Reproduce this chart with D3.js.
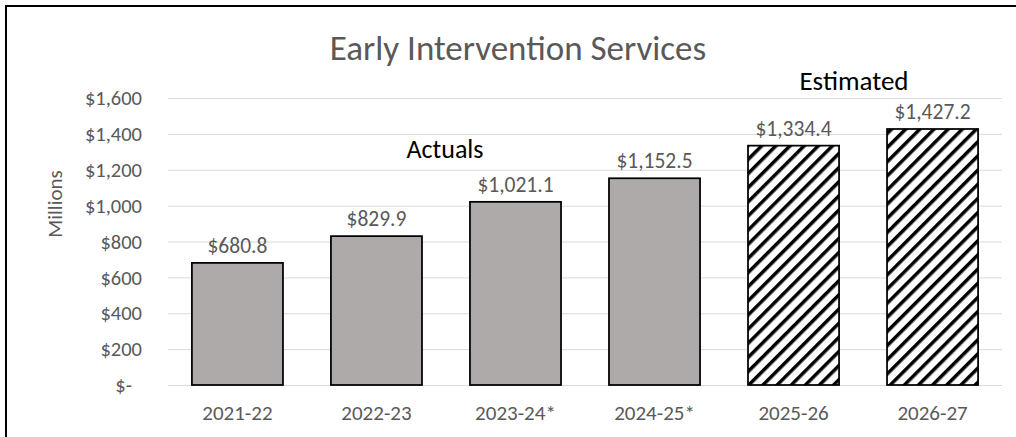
<!DOCTYPE html>
<html lang="en">
    <head>
        <meta charset="utf-8">
        <title>Early Intervention Services</title>
        <script type="text/javascript" src="https://d3js.org/d3.v7.min.js"></script>
        <style type="text/css">
            body{ margin: 0; background: #fff; }
            text{ font-family: Calibri, Carlito, "Open Sans", sans-serif; }
            .grid line{ stroke: #d9d9d9; stroke-width: 1px; }
            .grid path{ display: none; }
        </style>
    </head>
    <body>
        <svg id="chart" width="1016" height="437"></svg>
        <script type="text/javascript">
        //data
        const years = ["2021-22", "2022-23", "2023-24*", "2024-25*", "2025-26", "2026-27"];
        const amounts = [680.8, 829.9, 1021.1, 1152.5, 1334.4, 1427.2];
        const estimated = [false, false, false, false, true, true];
        const yTicks = [0, 200, 400, 600, 800, 1000, 1200, 1400, 1600];

        const svg = d3.select("#chart");
        const plotL = 168, plotR = 1002, plotT = 98, plotB = 385;
        const txt = "#595959";

        //hatch pattern for estimates
        const pat = svg.append("defs").append("pattern")
            .attr("id", "hatch")
            .attr("patternUnits", "userSpaceOnUse")
            .attr("width", 10).attr("height", 10)
            .attr("patternTransform", "rotate(45)");
        pat.append("rect").attr("width", 10).attr("height", 10).attr("fill", "#fff");
        pat.append("rect").attr("width", 3.5).attr("height", 10).attr("fill", "#000");

        //outer frame
        svg.append("rect")
            .attr("x", 6).attr("y", 6)
            .attr("width", 1030).attr("height", 450)
            .attr("fill", "none").attr("stroke", "#000").attr("stroke-width", 2);

        const x = d3.scaleBand().domain(years).range([plotL, plotR]).paddingInner(0.345).paddingOuter(0.172);
        const y = d3.scaleLinear().domain([0, 1600]).range([plotB, plotT]);

        //gridlines
        svg.append("g").attr("class", "grid")
            .attr("transform", `translate(${plotL},0)`)
            .call(d3.axisLeft(y).tickValues(yTicks).tickSize(-(plotR - plotL)).tickFormat(""));

        //y tick labels
        svg.append("g").selectAll("text")
            .data(yTicks)
            .join("text")
            .attr("x", d => d === 0 ? 132 : 142)
            .attr("y", d => y(d))
            .attr("dy", "0.35em")
            .attr("text-anchor", "end")
            .attr("fill", txt)
            .style("font-size", "20.5px")
            .text(d => d === 0 ? "$-" : "$" + d3.format(",")(d));

        //bars
        svg.append("g").selectAll("rect")
            .data(years)
            .join("rect")
            .attr("x", d => x(d))
            .attr("y", (d, i) => y(amounts[i]))
            .attr("width", x.bandwidth())
            .attr("height", (d, i) => plotB - y(amounts[i]))
            .attr("fill", (d, i) => estimated[i] ? "url(#hatch)" : "#aeaaaa")
            .attr("stroke", "#000")
            .attr("stroke-width", 1.75);

        //value labels
        svg.append("g").selectAll("text")
            .data(years)
            .join("text")
            .attr("x", d => x(d) + x.bandwidth() / 2)
            .attr("y", (d, i) => y(amounts[i]) - 10)
            .attr("text-anchor", "middle")
            .attr("fill", txt)
            .style("font-size", "21.5px")
            .text((d, i) => "$" + d3.format(",.1f")(amounts[i]));

        //x labels
        svg.append("g").selectAll("text")
            .data(years)
            .join("text")
            .attr("x", d => x(d) + x.bandwidth() / 2)
            .attr("y", 420)
            .attr("text-anchor", "middle")
            .attr("fill", txt)
            .style("font-size", "21px")
            .text(d => d);

        //title
        svg.append("text")
            .attr("x", 518).attr("y", 60)
            .attr("text-anchor", "middle")
            .attr("fill", txt)
            .style("font-size", "35px")
            .text("Early Intervention Services");

        //axis title
        svg.append("text")
            .attr("transform", "translate(62,204) rotate(-90)")
            .attr("text-anchor", "middle")
            .attr("fill", txt)
            .style("font-size", "21px")
            .text("Millions");

        //annotations
        svg.append("text")
            .attr("x", 445).attr("y", 158)
            .attr("text-anchor", "middle")
            .attr("fill", "#000")
            .style("font-size", "26px")
            .text("Actuals");
        svg.append("text")
            .attr("x", 854).attr("y", 90)
            .attr("text-anchor", "middle")
            .attr("fill", "#000")
            .style("font-size", "27px")
            .text("Estimated");
        </script>
    </body>
</html>
